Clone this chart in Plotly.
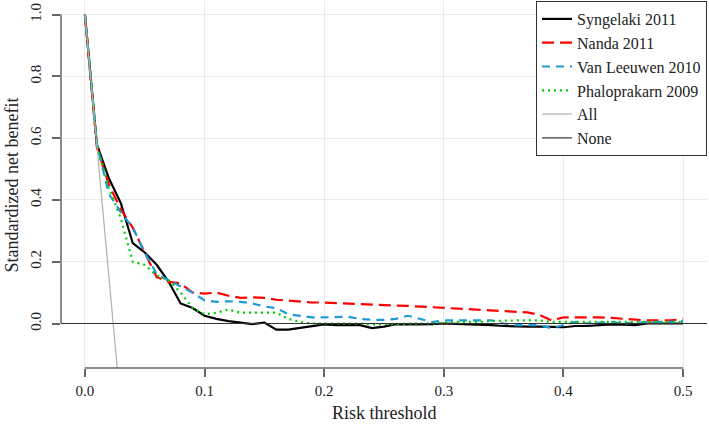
import plotly.graph_objects as go

thresholds = [round(i * 0.01, 2) for i in range(51)]

syngelaki = [1.0, 0.58, 0.47, 0.39, 0.26, 0.23, 0.19, 0.135, 0.065, 0.05,
             0.025, 0.015, 0.008, 0.003, -0.002, 0.003, -0.02, -0.02, -0.015, -0.01,
             -0.003, -0.005, -0.005, -0.005, -0.015, -0.01, -0.002, -0.003, -0.003, -0.002,
             0.0, -0.001, -0.002, -0.005, -0.005, -0.008, -0.01, -0.01, -0.01, -0.012,
             -0.012, -0.008, -0.008, -0.005, -0.003, -0.004, -0.005, 0.0, 0.0, 0.0, 0.0]

nanda = [1.0, 0.57, 0.45, 0.37, 0.31, 0.23, 0.15, 0.135, 0.13, 0.10,
         0.097, 0.10, 0.09, 0.083, 0.085, 0.083, 0.077, 0.074, 0.07, 0.068,
         0.068, 0.066, 0.064, 0.062, 0.06, 0.06, 0.058, 0.057, 0.055, 0.053,
         0.052, 0.05, 0.048, 0.046, 0.044, 0.042, 0.04, 0.036, 0.028, 0.01,
         0.02, 0.02, 0.022, 0.02, 0.018, 0.015, 0.013, 0.01, 0.01, 0.01, 0.015]

van_leeuwen = [1.0, 0.58, 0.42, 0.36, 0.31, 0.23, 0.16, 0.14, 0.12, 0.10,
               0.075, 0.07, 0.072, 0.07, 0.065, 0.055, 0.05, 0.03, 0.025, 0.02,
               0.02, 0.02, 0.022, 0.015, 0.012, 0.012, 0.015, 0.025, 0.015, 0.005,
               0.01, 0.01, 0.01, 0.01, 0.01, 0.0, -0.005, -0.005, -0.005, -0.015,
               -0.005, 0.005, 0.0, 0.003, 0.005, 0.0, 0.003, 0.005, 0.005, 0.005, 0.008]

phaloprakarn = [1.0, 0.58, 0.44, 0.34, 0.20, 0.19, 0.155, 0.14, 0.10, 0.05,
                0.03, 0.035, 0.045, 0.035, 0.035, 0.035, 0.035, 0.015, 0.005, 0.0,
                0.0, 0.0, 0.0, 0.0, -0.003, -0.002, 0.0, 0.0, 0.0, 0.0,
                0.003, 0.005, 0.005, 0.005, 0.008, 0.01, 0.01, 0.01, 0.01, 0.005,
                0.005, 0.005, 0.005, 0.005, 0.005, 0.005, 0.005, 0.005, 0.005, 0.005, 0.005]

all_x = [0.0, 0.01, 0.02, 0.03]
all_y = [1.0, 0.584, 0.16, -0.27]

none_y = 0.0

x_ticks = [0.0, 0.1, 0.2, 0.3, 0.4, 0.5]
x_tick_labels = ["0.0", "0.1", "0.2", "0.3", "0.4", "0.5"]
y_ticks = [0.0, 0.2, 0.4, 0.6, 0.8, 1.0]
y_tick_labels = ["0.0", "0.2", "0.4", "0.6", "0.8", "1.0"]

FONT = "Liberation Serif"
AX = "#666666"

fig = go.Figure()
fig.add_trace(go.Scatter(x=thresholds, y=syngelaki, mode="lines", name="Syngelaki 2011",
                         line=dict(color="black", width=2.2)))
fig.add_trace(go.Scatter(x=thresholds, y=nanda, mode="lines", name="Nanda 2011",
                         line=dict(color="#ff0000", width=2.2, dash="12px,6px")))
fig.add_trace(go.Scatter(x=thresholds, y=van_leeuwen, mode="lines", name="Van Leeuwen 2010",
                         line=dict(color="#1e9bd7", width=2.2, dash="8px,6px")))
fig.add_trace(go.Scatter(x=thresholds, y=phaloprakarn, mode="lines", name="Phaloprakarn 2009",
                         line=dict(color="#00cd00", width=2.2, dash="2px,4px")))
fig.add_trace(go.Scatter(x=all_x, y=all_y, mode="lines", name="All",
                         line=dict(color="#b0b0b0", width=1.2)))

# None: horizontal line across the whole plotting region
fig.add_shape(type="line", xref="paper", x0=0, x1=1, yref="y", y0=none_y, y1=none_y,
              line=dict(color="#333333", width=1.2), showlegend=True, name="None",
              layer="above")

# axis lines (R style: only spanning the tick range)
fig.add_shape(type="line", xref="x", x0=x_ticks[0], x1=x_ticks[-1], yref="paper", y0=0, y1=0,
              line=dict(color=AX, width=1.5))
fig.add_shape(type="line", xref="paper", x0=0, x1=0, yref="y", y0=y_ticks[0], y1=y_ticks[-1],
              line=dict(color=AX, width=1.5))

fig.add_annotation(text="Risk threshold", xref="paper", yref="paper", x=0.5, y=-0.1226,
                   xanchor="center", yanchor="middle", showarrow=False,
                   font=dict(family=FONT, size=18, color="#222222"))
fig.add_annotation(text="Standardized net benefit", xref="paper", yref="paper", x=-0.0759, y=0.5,
                   xanchor="center", yanchor="middle", showarrow=False, textangle=-90,
                   font=dict(family=FONT, size=18, color="#222222"))

fig.update_layout(
    width=709, height=426,
    margin=dict(l=61, r=2, t=1, b=58, autoexpand=False),
    plot_bgcolor="white", paper_bgcolor="white",
    font=dict(family=FONT, size=15, color="#222222"),
    showlegend=True,
    legend=dict(x=1, y=1, xanchor="right", yanchor="top",
                bgcolor="white", bordercolor="#333333", borderwidth=1,
                font=dict(family=FONT, size=16, color="#222222"),
                tracegroupgap=0, itemwidth=30),
)
fig.update_xaxes(range=[-0.02, 0.52], tickvals=x_ticks, ticktext=x_tick_labels,
                 showgrid=True, gridcolor="#ebebeb", gridwidth=1, zeroline=False,
                 showline=False, ticks="outside", ticklen=8, tickcolor=AX, tickwidth=1.5,
                 ticklabelstandoff=1, automargin=False)
fig.update_yaxes(range=[-0.144, 1.044], tickvals=y_ticks, ticktext=y_tick_labels,
                 showgrid=True, gridcolor="#ebebeb", gridwidth=1, zeroline=False,
                 showline=False, ticks="outside", ticklen=8, tickcolor=AX, tickwidth=1.5,
                 tickangle=-90, ticklabelstandoff=5, automargin=False)

fig.write_html("out.html", config={"displayModeBar": False},
               post_script="document.body.style.margin='0';document.body.style.overflow='hidden';")
